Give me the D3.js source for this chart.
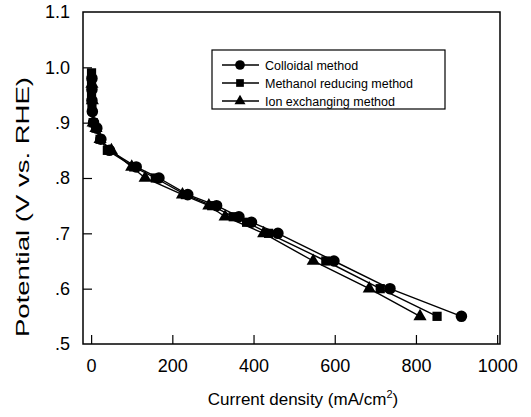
<html>
<head>
<script type="text/javascript" src="https://d3js.org/d3.v7.min.js"></script>
<style>
body { margin: 0; background: #fff; }
text { font-family: "Liberation Sans", Arial, sans-serif; fill: #000; }
</style>
</head>
<body>
<div id="chart"></div>
<script type="text/javascript">
// values: [current density, potential]
var colloidal = [[2,0.98],[2,0.96],[2,0.94],[3,0.92],[6,0.90],[14,0.89],[24,0.87],[45,0.85],[111,0.82],[167,0.80],[238,0.77],[309,0.75],[364,0.73],[395,0.72],[460,0.70],[598,0.65],[736,0.60],[912,0.55]];
var methanol = [[1,0.99],[1,0.97],[1,0.95],[2,0.93],[5,0.90],[12,0.89],[22,0.87],[40,0.85],[105,0.82],[158,0.80],[232,0.77],[297,0.75],[350,0.73],[383,0.72],[437,0.70],[578,0.65],[712,0.60],[852,0.55]];
var ionex = [[2,0.97],[3,0.94],[5,0.90],[12,0.89],[22,0.87],[50,0.85],[100,0.82],[133,0.80],[225,0.77],[290,0.75],[330,0.73],[425,0.70],[547,0.65],[685,0.60],[810,0.55]];
var seriesNames = ["Colloidal method", "Methanol reducing method", "Ion exchanging method"];
var xTicks = [0, 200, 400, 600, 800, 1000];
var yTicks = [0.5, 0.6, 0.7, 0.8, 0.9, 1.0, 1.1];
var yTickLabels = [".5", ".6", ".7", ".8", ".9", "1.0", "1.1"];

var w = 531, h = 417;
var padL = 83, padR = 500, padT = 12, padB = 344;

var svg = d3.select("#chart").append("svg")
	.attr("width", w)
	.attr("height", h);

var x = d3.scaleLinear().domain([-20, 1007]).range([padL, padR]);
var y = d3.scaleLinear().domain([0.5, 1.1]).range([padB, padT]);

// frame
svg.append("rect")
	.attr("x", padL).attr("y", padT)
	.attr("width", padR - padL).attr("height", padB - padT)
	.style("fill", "none").style("stroke", "#000").style("stroke-width", 1.5);

// axes with inward ticks
var xAxis = d3.axisBottom(x).tickValues(xTicks).tickSizeInner(-9).tickSizeOuter(0)
	.tickFormat(d3.format("d"));
var gx = svg.append("g").attr("transform", "translate(0," + padB + ")").call(xAxis);
gx.select(".domain").remove();
gx.selectAll("line").style("stroke", "#000").style("stroke-width", 1.2);
gx.selectAll(".tick text").style("font-size", "18px").attr("dy", null).attr("y", 28);

var yAxis = d3.axisLeft(y).tickValues(yTicks).tickSizeInner(-9).tickSizeOuter(0).tickPadding(13)
	.tickFormat(function(d, i) { return yTickLabels[i]; });
var gy = svg.append("g").attr("transform", "translate(" + padL + ",0)").call(yAxis);
gy.select(".domain").remove();
gy.selectAll("line").style("stroke", "#000").style("stroke-width", 1.2);
gy.selectAll(".tick").filter(function(d) { return d == 1.1 || d == 0.5; }).select("line").remove();
gy.selectAll("text").style("font-size", "18px");

// axis titles
var xt = svg.append("text")
	.attr("x", 303).attr("y", 405)
	.attr("text-anchor", "middle")
	.style("font-size", "17px");
xt.append("tspan").text("Current density (mA/cm");
xt.append("tspan").attr("dy", -7).style("font-size", "11px").text("2");
xt.append("tspan").attr("dy", 7).text(")");

svg.append("text")
	.attr("transform", "translate(29,207) rotate(-90)")
	.attr("text-anchor", "middle")
	.attr("textLength", 260)
	.attr("lengthAdjust", "spacingAndGlyphs")
	.style("font-size", "18px")
	.text("Potential (V vs. RHE)");

// series
var data = [colloidal, methanol, ionex];
var symbols = [d3.symbolCircle, d3.symbolSquare, d3.symbolTriangle];
var sizes = [105, 85, 75];

var line = d3.line()
	.x(function(d) { return x(d[0]); })
	.y(function(d) { return y(d[1]); });

data.forEach(function(s, k) {
	svg.append("path")
		.datum(s)
		.attr("d", line)
		.style("fill", "none").style("stroke", "#000").style("stroke-width", 1.4);
	svg.selectAll(".m" + k)
		.data(s)
		.enter().append("path")
		.attr("class", "m" + k)
		.attr("transform", function(d) { return "translate(" + x(d[0]) + "," + y(d[1]) + ")"; })
		.attr("d", d3.symbol().type(symbols[k]).size(sizes[k]))
		.style("fill", "#000");
});

// legend
var lg = svg.append("g");
lg.append("rect")
	.attr("x", 212).attr("y", 50).attr("width", 233).attr("height", 59)
	.style("fill", "#fff").style("stroke", "#000").style("stroke-width", 1.2);
seriesNames.forEach(function(name, k) {
	var ly = 65 + k * 18;
	lg.append("line").attr("x1", 222).attr("x2", 259).attr("y1", ly).attr("y2", ly)
		.style("stroke", "#000").style("stroke-width", 1.4);
	lg.append("path")
		.attr("transform", "translate(240," + ly + ")")
		.attr("d", d3.symbol().type(symbols[k]).size(sizes[k] * 0.7))
		.style("fill", "#000");
	lg.append("text").attr("x", 265).attr("y", ly + 4.5)
		.style("font-size", "12.5px")
		.text(name);
});
</script>
</body>
</html>
